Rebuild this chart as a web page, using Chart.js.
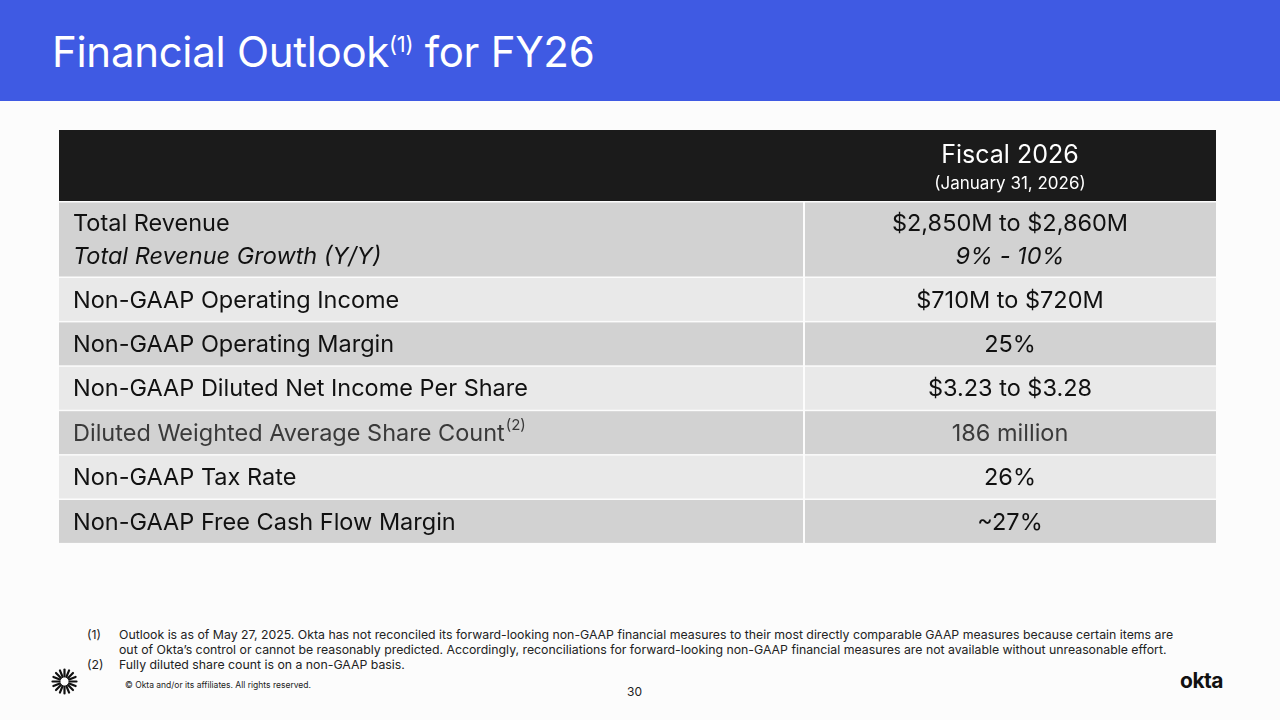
<!DOCTYPE html>
<html><head><meta charset="utf-8">
<script src="https://cdn.jsdelivr.net/npm/chart.js@4"></script>
<style>
body{margin:0;width:1280px;height:720px;background:#fcfcfc;font-family:Inter,"DejaVu Sans",sans-serif;position:relative;overflow:hidden;color:#111}
#bar{position:absolute;left:0;top:0;width:1280px;height:101px;background:#3f5ae3}
#title{position:absolute;left:52px;top:26px;color:#fff;font-size:42px;letter-spacing:-0.3px}
#title sup{font-size:22px}
#wrap{position:absolute;left:59px;top:130px;width:1157px;height:415px}
.fn{position:absolute;font-size:12.3px;line-height:14.5px;color:#222}
</style></head><body>
<div id="bar"></div>
<div id="title">Financial Outlook<sup>(1)</sup> for FY26</div>
<div id="wrap"><canvas id="c"></canvas></div>
<div class="fn" style="left:87px;top:628px">(1)</div>
<div class="fn" style="left:119px;top:628px;width:1060px">Outlook is as of May 27, 2025. Okta has not reconciled its forward-looking non-GAAP financial measures to their most directly comparable GAAP measures because certain items are out of Okta’s control or cannot be reasonably predicted. Accordingly, reconciliations for forward-looking non-GAAP financial measures are not available without unreasonable effort.</div>
<div class="fn" style="left:87px;top:658px">(2)</div>
<div class="fn" style="left:119px;top:658px">Fully diluted share count is on a non-GAAP basis.</div>
<div class="fn" style="left:125px;top:678px;font-size:8.5px">© Okta and/or its affiliates. All rights reserved.</div>
<div class="fn" style="left:627px;top:685px;font-size:12px">30</div>
<div style="position:absolute;left:1180px;top:668px;font-size:21px;font-weight:700;letter-spacing:-0.5px">okta</div>
<svg style="position:absolute;left:51px;top:668px" width="27" height="27" viewBox="-13.5 -13.5 27 27" id="sun"></svg>
<script>
// sunburst logo
const sun = document.getElementById('sun');
for (let i = 0; i < 16; i++) {
  const a = i * Math.PI / 8;
  sun.innerHTML += `<line x1="${5*Math.cos(a)}" y1="${5*Math.sin(a)}" x2="${12*Math.cos(a)}" y2="${12*Math.sin(a)}" stroke="#111" stroke-width="2.2" stroke-linecap="round"/>`;
}

const headerTitle = 'Fiscal 2026';
const headerSub = '(January 31, 2026)';
const metrics = ['Total Revenue', 'Non-GAAP Operating Income', 'Non-GAAP Operating Margin',
  'Non-GAAP Diluted Net Income Per Share', 'Diluted Weighted Average Share Count',
  'Non-GAAP Tax Rate', 'Non-GAAP Free Cash Flow Margin'];
const subMetrics = ['Total Revenue Growth (Y/Y)', '', '', '', '', '', ''];
const metricNotes = ['', '', '', '', '(2)', '', ''];
const outlook = ['$2,850M to $2,860M', '$710M to $720M', '25%', '$3.23 to $3.28',
  '186 million', '26%', '~27%'];
const subOutlook = ['9% - 10%', '', '', '', '', '', ''];

// layout
const headH = 71, tallH = 74, rowH = 42.9, gap = 1.5, split = 745;
const rowShade = ['#d2d2d2', '#e9e9e9'];
const FONT = 'Inter, "DejaVu Sans", sans-serif';

const tablePlugin = {
  id: 'table',
  afterDraw(chart) {
    const ctx = chart.ctx, xs = chart.scales.x, ys = chart.scales.y;
    const X = v => xs.getPixelForValue(v), Y = v => ys.getPixelForValue(v);
    const W = xs.max;
    ctx.save();
    // header
    ctx.fillStyle = '#1b1b1b';
    ctx.fillRect(X(0), Y(0), X(W) - X(0), Y(headH) - Y(0));
    ctx.fillStyle = '#fff';
    ctx.textAlign = 'center'; ctx.textBaseline = 'alphabetic';
    const cx = (X(split) + X(W)) / 2;
    ctx.font = `25px ${FONT}`; ctx.fillText(headerTitle, cx, Y(33));
    ctx.font = `17px ${FONT}`; ctx.fillText(headerSub, cx, Y(59));
    let y = headH + gap;
    metrics.forEach((m, i) => {
      const h = subMetrics[i] ? tallH : rowH;
      ctx.fillStyle = rowShade[i % 2];
      ctx.fillRect(X(0), Y(y), X(split) - X(0) - 1, Y(y + h) - Y(y));
      ctx.fillRect(X(split) + 1, Y(y), X(W) - X(split) - 1, Y(y + h) - Y(y));
      ctx.fillStyle = i === 4 ? '#3a3a3a' : '#111';
      ctx.textBaseline = 'middle';
      const lines = subMetrics[i] ? [[m, outlook[i], ''], [subMetrics[i], subOutlook[i], 'italic ']] : [[m, outlook[i], '']];
      lines.forEach((ln, k) => {
        const ty = lines.length > 1 ? y + 21 + k * 33 : y + h / 2 + 1;
        ctx.font = `${ln[2]}23.5px ${FONT}`;
        ctx.textAlign = 'left';
        ctx.fillText(ln[0], X(14), Y(ty));
        if (k === 0 && metricNotes[i]) {
          const w = ctx.measureText(ln[0]).width;
          ctx.font = `15px ${FONT}`;
          ctx.fillText(metricNotes[i], X(14) + w + 1, Y(ty - 8));
          ctx.font = `${ln[2]}23.5px ${FONT}`;
        }
        ctx.textAlign = 'center';
        ctx.fillText(ln[1], cx, Y(ty));
      });
      y += h + gap;
    });
    ctx.restore();
  }
};

new Chart(document.getElementById('c'), {
  type: 'scatter',
  data: { datasets: [{ data: [] }] },
  options: {
    responsive: true, maintainAspectRatio: false, animation: false,
    layout: { padding: 0 },
    plugins: { legend: { display: false }, tooltip: { enabled: false } },
    scales: {
      x: { type: 'linear', min: 0, max: 1157, display: false },
      y: { type: 'linear', min: 0, max: 415, reverse: true, display: false }
    }
  },
  plugins: [tablePlugin]
});
</script>
</body></html>
